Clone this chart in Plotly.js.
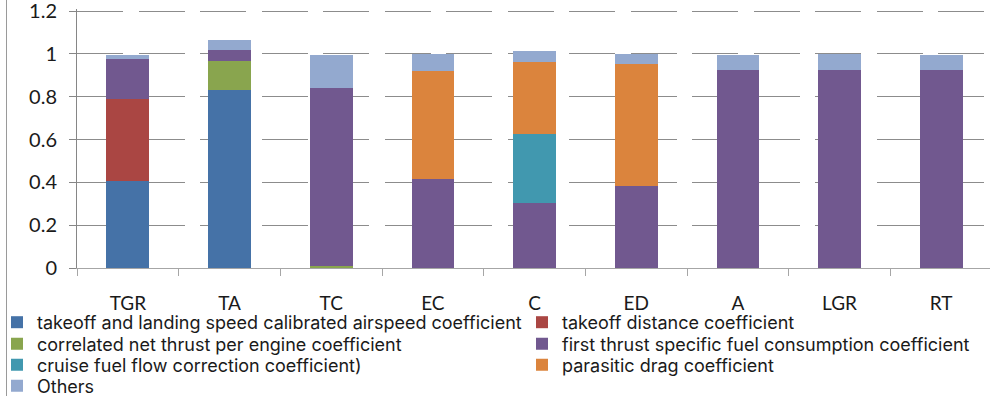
<!DOCTYPE html>
<html>
<head>
<meta charset="utf-8">
<script src="https://cdn.plot.ly/plotly-3.0.1.min.js"></script>
<style>
  html, body { margin: 0; padding: 0; background: #ffffff; }
  #chart { width: 990px; height: 396px; }
</style>
</head>
<body>
<div id="chart"></div>
<script>
// Sensitivity share of each coefficient, per output group
const categories = ['TGR', 'TA', 'TC', 'EC', 'C', 'ED', 'A', 'LGR', 'RT'];

const takeoffLandingSpeed = [0.405, 0.832, 0, 0, 0, 0, 0, 0, 0];
const takeoffDistance     = [0.384, 0, 0, 0, 0, 0, 0, 0, 0];
const netThrust           = [0, 0.134, 0.01, 0, 0, 0, 0, 0, 0];
const firstTSFC           = [0.187, 0.052, 0.83, 0.415, 0.303, 0.383, 0.924, 0.924, 0.924];
const cruiseFuelFlow      = [0, 0, 0, 0, 0.323, 0, 0, 0, 0];
const parasiticDrag       = [0, 0, 0, 0.505, 0.336, 0.569, 0, 0, 0];
const others              = [0.018, 0.046, 0.154, 0.078, 0.051, 0.047, 0.07, 0.076, 0.07];

const seriesNames = [
  'takeoff and landing speed calibrated airspeed coefficient',
  'takeoff distance coefficient',
  'correlated net thrust per engine coefficient',
  'first thrust specific fuel consumption coefficient',
  'cruise fuel flow correction coefficient)',
  'parasitic drag coefficient',
  'Others'
];
const seriesValues = [takeoffLandingSpeed, takeoffDistance, netThrust, firstTSFC,
                      cruiseFuelFlow, parasiticDrag, others];
const seriesColors = ['#4572A7', '#AA4643', '#89A54E', '#71588F', '#4198AF', '#DB843D', '#93A9CF'];

const FONT = 'Lato, "Open Sans", sans-serif';
const LEGEND_FONT = 'Inter, "Open Sans", sans-serif';
const TEXT = '#1a1a1a';

// plot box in pixels
const L = 77, T = 9, B = 128, W = 990, H = 396;
const plotW = W - L, plotH = H - T - B;
const px2x = p => (p - L) / plotW;
const px2y = p => (H - B - p) / plotH;

// legend: two columns, four rows, one legend box per entry
const colLeft = [-3, 522];
const rowCenter = [322.5, 344, 365, 386];

const traces = seriesNames.map((name, i) => ({
  type: 'bar',
  name: name,
  x: categories,
  y: seriesValues[i],
  width: 0.42,
  marker: { color: seriesColors[i], line: { width: 0 } },
  legend: i === 0 ? 'legend' : 'legend' + (i + 1),
  hoverinfo: 'skip'
}));

const layout = {
  width: W,
  height: H,
  margin: { l: L, r: 0, t: T, b: B, autoexpand: false },
  paper_bgcolor: '#ffffff',
  plot_bgcolor: '#ffffff',
  barmode: 'stack',
  font: { family: FONT, color: TEXT },
  xaxis: {
    type: 'category',
    range: [-0.5, 8.48],
    tickson: 'boundaries',
    ticks: 'outside',
    ticklen: 7,
    tickcolor: '#a6a6a6',
    showline: true,
    linecolor: '#a6a6a6',
    linewidth: 1,
    showgrid: false,
    zeroline: false,
    ticklabelstandoff: 18,
    tickfont: { family: FONT, size: 19, color: TEXT },
    fixedrange: true
  },
  yaxis: {
    range: [0, 1.21],
    tickvals: [0, 0.2, 0.4, 0.6, 0.8, 1, 1.2],
    ticktext: ['0', '0.2', '0.4', '0.6', '0.8', '1', '1.2'],
    ticks: 'outside',
    ticklen: 7,
    tickcolor: '#868686',
    showline: true,
    linecolor: '#868686',
    linewidth: 1,
    showgrid: true,
    gridcolor: '#8c8c8c',
    gridwidth: 1,
    griddash: '46px,16px,46px,15px',
    zeroline: false,
    ticklabeloverflow: 'allow',
    ticklabelstandoff: 8,
    tickfont: { family: FONT, size: 20, color: TEXT },
    fixedrange: true
  },
  shapes: [{
    type: 'line', xref: 'paper', yref: 'paper',
    x0: px2x(6.5), x1: px2x(6.5), y0: px2y(H), y1: px2y(0),
    line: { color: '#9a9a9a', width: 1 }
  }],
  showlegend: true
};

seriesNames.forEach((_, i) => {
  const key = i === 0 ? 'legend' : 'legend' + (i + 1);
  layout[key] = {
    x: px2x(colLeft[i % 2]),
    y: px2y(rowCenter[Math.floor(i / 2)]),
    xanchor: 'left',
    yanchor: 'middle',
    orientation: 'v',
    bgcolor: 'rgba(0,0,0,0)',
    borderwidth: 0,
    font: { family: LEGEND_FONT, size: 18, color: TEXT },
    itemclick: false,
    itemdoubleclick: false
  };
});

Plotly.newPlot('chart', traces, layout, { staticPlot: true, displayModeBar: false });
</script>
</body>
</html>
